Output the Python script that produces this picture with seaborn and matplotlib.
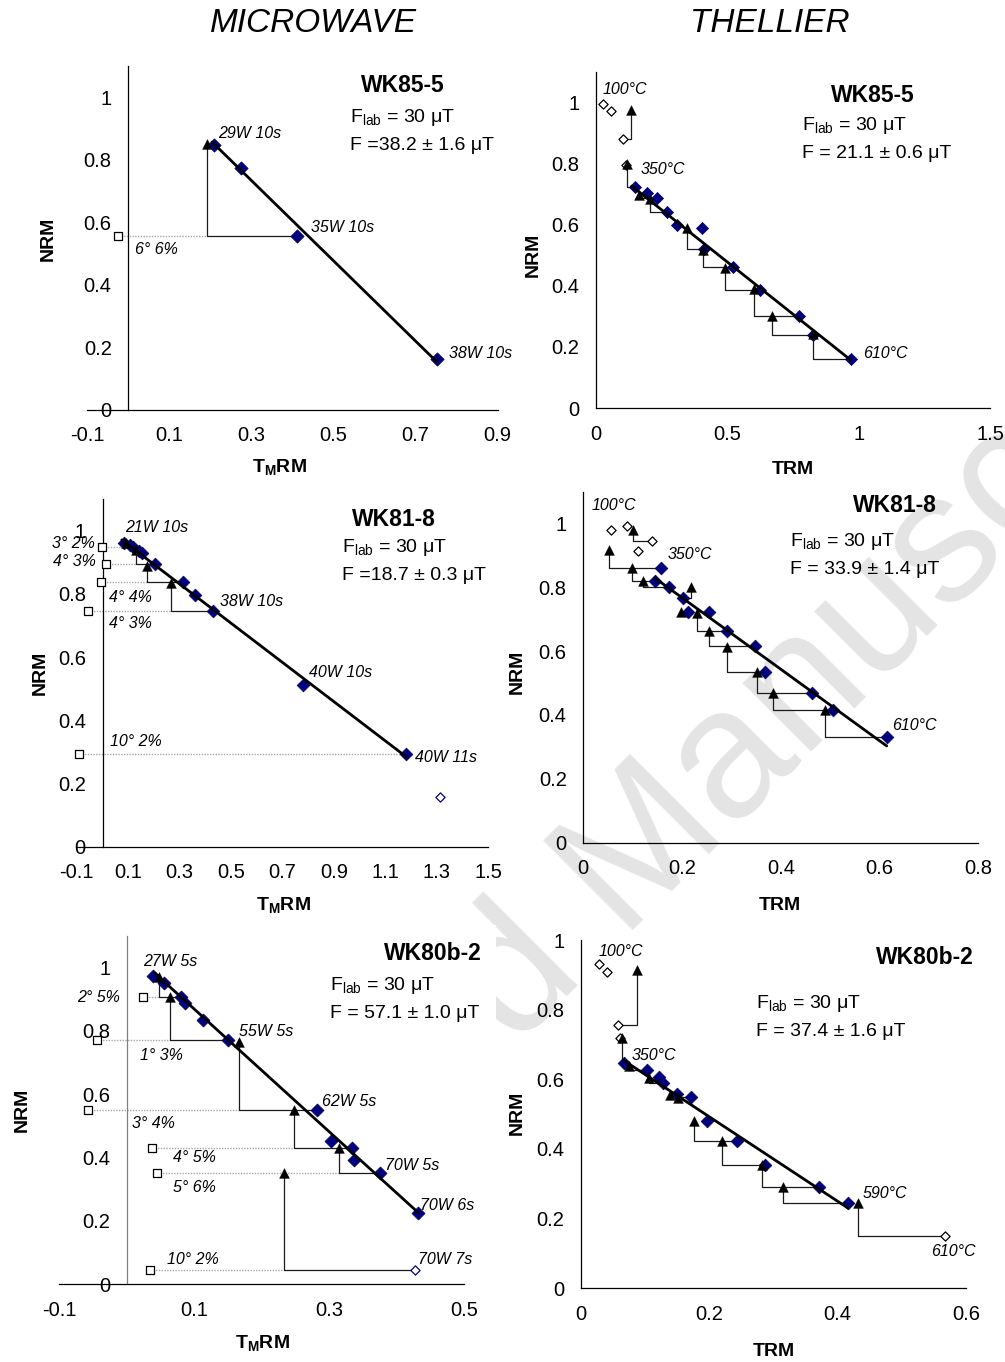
import matplotlib
matplotlib.use("Agg")
import matplotlib.pyplot as plt
from matplotlib.patches import Rectangle
import seaborn as sns

# ------------------------------------------------------------------
# Arai diagrams: NRM remaining vs. (T_M)RM gained, normalised values
# ------------------------------------------------------------------

# WK85-5, microwave
mw85_trm = [0.209, 0.274, 0.412, 0.751]
mw85_nrm = [0.847, 0.773, 0.556, 0.162]
mw85_chk_x = [0.192]
mw85_chk_y = [0.850]
mw85_from_x = [0.412]
mw85_from_y = [0.556]
mw85_dir_x = [-0.024]
mw85_dir_y = [0.556]
mw85_dir_to = [0.192]
mw85_fit_x = [0.204, 0.751]
mw85_fit_y = [0.857, 0.154]
mw85_step_labels = ["29W 10s", "35W 10s", "38W 10s"]
mw85_dir_labels = ["6° 6%"]

# WK85-5, Thellier
th85_off_x = [0.025, 0.056, 0.101, 0.115]
th85_off_y = [0.995, 0.973, 0.880, 0.797]
th85_trm = [0.150, 0.193, 0.231, 0.269, 0.307, 0.405, 0.412, 0.523, 0.624, 0.774, 0.827, 0.970]
th85_nrm = [0.723, 0.703, 0.687, 0.643, 0.599, 0.589, 0.520, 0.461, 0.386, 0.301, 0.239, 0.160]
th85_chk_x = [0.133, 0.117, 0.165, 0.204, 0.346, 0.409, 0.493, 0.601, 0.670, 0.827]
th85_chk_y = [0.976, 0.799, 0.698, 0.683, 0.589, 0.518, 0.460, 0.389, 0.302, 0.242]
th85_from_x = [0.101, 0.150, 0.231, 0.269, 0.412, 0.523, 0.624, 0.774, 0.827, 0.970]
th85_from_y = [0.880, 0.723, 0.687, 0.643, 0.520, 0.461, 0.386, 0.301, 0.239, 0.160]
th85_fit_x = [0.136, 0.970]
th85_fit_y = [0.727, 0.157]
th85_temp_labels = ["100°C", "350°C", "610°C"]

# WK81-8, microwave
mw81_trm = [0.085, 0.105, 0.120, 0.140, 0.152, 0.206, 0.314, 0.359, 0.431, 0.780, 1.180]
mw81_nrm = [0.960, 0.955, 0.947, 0.935, 0.928, 0.896, 0.837, 0.795, 0.747, 0.512, 0.293]
mw81_off_x = [1.314]
mw81_off_y = [0.158]
mw81_chk_x = [0.091, 0.130, 0.174, 0.265]
mw81_chk_y = [0.962, 0.939, 0.888, 0.836]
mw81_from_x = [0.120, 0.206, 0.314, 0.431]
mw81_from_y = [0.947, 0.896, 0.837, 0.747]
mw81_dir_x = [-0.001, 0.014, -0.006, -0.055, -0.090]
mw81_dir_y = [0.947, 0.896, 0.837, 0.747, 0.293]
mw81_dir_to = [0.091, 0.130, 0.174, 0.265, 1.180]
mw81_fit_x = [0.075, 1.180]
mw81_fit_y = [0.971, 0.285]
mw81_step_labels = ["21W 10s", "38W 10s", "40W 10s", "40W 11s"]
mw81_dir_labels = ["3° 2%", "4° 3%", "4° 4%", "4° 3%", "10° 2%"]

# WK81-8, Thellier
th81_off_x = [0.0555, 0.089, 0.110, 0.1385]
th81_off_y = [0.979, 0.993, 0.914, 0.945]
th81_trm = [0.1567, 0.1452, 0.1742, 0.2025, 0.2114, 0.2552, 0.2904, 0.3484, 0.3686, 0.4625, 0.5063, 0.6145]
th81_nrm = [0.861, 0.8205, 0.7998, 0.765, 0.7235, 0.7216, 0.664, 0.616, 0.5346, 0.470, 0.4156, 0.330]
th81_chk_x = [0.052, 0.100, 0.098, 0.1215, 0.2175, 0.197, 0.231, 0.2552, 0.2904, 0.351, 0.385, 0.4895]
th81_chk_y = [0.917, 0.979, 0.859, 0.8205, 0.800, 0.7235, 0.718, 0.664, 0.614, 0.5355, 0.470, 0.4156]
th81_from_x = [0.1567, 0.1385, 0.1452, 0.1742, 0.2025, 0.2114, 0.2904, 0.3484, 0.3686, 0.4625, 0.5063, 0.6145]
th81_from_y = [0.861, 0.945, 0.8205, 0.7998, 0.765, 0.7235, 0.664, 0.616, 0.5346, 0.470, 0.4156, 0.330]
th81_fit_x = [0.145, 0.6145]
th81_fit_y = [0.829, 0.303]
th81_temp_labels = ["100°C", "350°C", "610°C"]

# WK80b-2, microwave
mw80_trm = [0.0393, 0.0546, 0.0800, 0.0862, 0.1128, 0.1500, 0.2825, 0.3022, 0.3331, 0.3370, 0.3751, 0.4319]
mw80_nrm = [0.975, 0.953, 0.908, 0.887, 0.8346, 0.770, 0.549, 0.4525, 0.431, 0.392, 0.3525, 0.2254]
mw80_off_x = [0.427]
mw80_off_y = [0.0443]
mw80_chk_x = [0.0481, 0.064, 0.1667, 0.2477, 0.3149, 0.2329]
mw80_chk_y = [0.9716, 0.908, 0.766, 0.550, 0.431, 0.350]
mw80_from_x = [0.0800, 0.1500, 0.2825, 0.3331, 0.3751, 0.427]
mw80_from_y = [0.908, 0.770, 0.549, 0.431, 0.3525, 0.0443]
mw80_dir_x = [0.0235, -0.0437, -0.058, 0.0369, 0.0443, 0.0344]
mw80_dir_y = [0.908, 0.770, 0.549, 0.431, 0.3525, 0.0443]
mw80_dir_to = [0.0481, 0.064, 0.1667, 0.2477, 0.3149, 0.2329]
mw80_fit_x = [0.0418, 0.4319]
mw80_fit_y = [0.982, 0.2254]
mw80_step_labels = ["27W 5s", "55W 5s", "62W 5s", "70W 5s", "70W 6s", "70W 7s"]
mw80_dir_labels = ["2° 5%", "1° 3%", "3° 4%", "4° 5%", "5° 6%", "10° 2%"]

# WK80b-2, Thellier
th80_off_x = [0.028, 0.040, 0.0572, 0.060, 0.568]
th80_off_y = [0.930, 0.909, 0.756, 0.720, 0.150]
th80_trm = [0.067, 0.1024, 0.121, 0.1283, 0.149, 0.1709, 0.196, 0.2436, 0.2867, 0.3714, 0.4166]
th80_nrm = [0.646, 0.627, 0.608, 0.588, 0.558, 0.549, 0.481, 0.423, 0.354, 0.2917, 0.244]
th80_chk_x = [0.0868, 0.0634, 0.075, 0.1065, 0.1387, 0.1517, 0.1761, 0.2202, 0.2826, 0.3153, 0.4312]
th80_chk_y = [0.914, 0.718, 0.638, 0.603, 0.555, 0.5455, 0.481, 0.4238, 0.354, 0.2917, 0.2458]
th80_from_x = [0.0572, 0.067, 0.1024, 0.1283, 0.149, 0.1709, 0.2436, 0.2867, 0.3714, 0.4166, 0.568]
th80_from_y = [0.756, 0.646, 0.627, 0.588, 0.558, 0.549, 0.423, 0.354, 0.2917, 0.244, 0.150]
th80_fit_x = [0.066, 0.4166]
th80_fit_y = [0.655, 0.2297]
th80_temp_labels = ["100°C", "350°C", "590°C", "610°C"]

# Sample names and intensity results
samples = ["WK85-5", "WK81-8", "WK80b-2"]
flab_text = "F$_{\\mathregular{lab}}$ = 30 μT"
mw_results = ["F =38.2 ± 1.6 μT", "F =18.7 ± 0.3 μT", "F = 57.1 ± 1.0 μT"]
th_results = ["F = 21.1 ± 0.6 μT", "F = 33.9 ± 1.4 μT", "F = 37.4 ± 1.6 μT"]
column_titles = ["MICROWAVE", "THELLIER"]

# Axis ticks
y_ticks = [0, 0.2, 0.4, 0.6, 0.8, 1.0]
y_ticklabels = ["0", "0.2", "0.4", "0.6", "0.8", "1"]
mw85_xticks = [-0.1, 0.1, 0.3, 0.5, 0.7, 0.9]
mw81_xticks = [-0.1, 0.1, 0.3, 0.5, 0.7, 0.9, 1.1, 1.3, 1.5]
mw80_xticks = [-0.1, 0.1, 0.3, 0.5]
th85_xticks = [0, 0.5, 1.0, 1.5]
th85_xticklabels = ["0", "0.5", "1", "1.5"]
th81_xticks = [0, 0.2, 0.4, 0.6, 0.8]
th80_xticks = [0, 0.2, 0.4, 0.6]

# ------------------------------------------------------------------
# Styling
# ------------------------------------------------------------------
sns.set_style("white")
plt.rcParams["font.family"] = ["Liberation Sans", "DejaVu Sans"]
plt.rcParams["mathtext.fontset"] = "custom"
plt.rcParams["mathtext.rm"] = "Liberation Sans"
plt.rcParams["mathtext.it"] = "Liberation Sans:italic"
plt.rcParams["mathtext.bf"] = "Liberation Sans:bold"
plt.rcParams["axes.unicode_minus"] = False
plt.rcParams["text.color"] = "black"
plt.rcParams["axes.labelcolor"] = "black"
plt.rcParams["xtick.color"] = "black"
plt.rcParams["ytick.color"] = "black"

NAVY = "#000080"
NAVY_EDGE = "#00005a"
STEP = "#1a1a1a"
DOT = "#a6a6a6"
W, H = 1005, 1362

fig = plt.figure(figsize=(W / 100, H / 100), dpi=100)
fig.patch.set_facecolor("white")


def add_axes_px(left, top, right, bottom):
    return fig.add_axes([left / W, 1 - bottom / H, (right - left) / W, (bottom - top) / H])


def put(x, y, s, size=11.5, style="italic", weight="normal", ha="left", rot=0):
    fig.text(x / W, 1 - y / H, s, fontsize=size, fontstyle=style, color="black",
             fontweight=weight, ha=ha, va="center", rotation=rot)


def draw_arai(ax, px, py, cx, cy, fx, fy, fitx, fity,
              off_x=(), off_y=(), off_edge="black",
              dir_x=(), dir_y=(), dir_to=(), d_size=42):
    for sx, sy, ex in zip(dir_x, dir_y, dir_to):
        ax.plot([sx, ex], [sy, sy], color=DOT, lw=1.0, ls=(0, (1, 1)), zorder=1)
    for tx, ty, ox, oy in zip(cx, cy, fx, fy):
        ax.plot([ox, tx, tx], [oy, oy, ty], color=STEP, lw=0.9, zorder=2)
    if len(dir_x):
        sns.scatterplot(x=list(dir_x), y=list(dir_y), marker="s", s=32, color="white",
                        edgecolor="black", linewidth=0.9, ax=ax, zorder=3, clip_on=False)
    if len(off_x):
        sns.scatterplot(x=list(off_x), y=list(off_y), marker="D", s=22, color="white",
                        edgecolor=off_edge, linewidth=0.9, ax=ax, zorder=3, clip_on=False)
    sns.scatterplot(x=px, y=py, marker="D", s=d_size, color=NAVY, edgecolor=NAVY_EDGE,
                    linewidth=0.5, ax=ax, zorder=4, clip_on=False)
    sns.scatterplot(x=cx, y=cy, marker="^", s=50, color="black", edgecolor="black",
                    linewidth=0.3, ax=ax, zorder=5, clip_on=False)
    sns.lineplot(x=fitx, y=fity, color="black", linewidth=2.0, sort=False,
                 estimator=None, ax=ax, zorder=6)


def style_axes(ax, xlim, ylim, xticks, xlabels, yspine="black"):
    ax.set_xlim(*xlim)
    ax.set_ylim(*ylim)
    ax.set_facecolor("none")
    ax.grid(False)
    ax.spines["top"].set_visible(False)
    ax.spines["right"].set_visible(False)
    ax.spines["left"].set_position(("data", 0))
    ax.spines["left"].set_color(yspine)
    ax.spines["bottom"].set_color("black")
    for sp in ("left", "bottom"):
        ax.spines[sp].set_linewidth(0.9)
    ax.set_xticks(xticks)
    ax.set_xticklabels(xlabels)
    yt = [t for t in y_ticks if t <= ylim[1] + 1e-9]
    ax.set_yticks(yt)
    ax.set_yticklabels(y_ticklabels[:len(yt)])
    ax.tick_params(direction="out", length=4, width=0.9, labelsize=14.5, pad=8,
                   colors="black")
    ax.tick_params(axis="y", color=yspine)
    ax.set(xlabel="", ylabel="")


def fmt(ticks):
    return [("%g" % t) for t in ticks]


# Watermark behind the figure content; the lower-left chart sits on white
fig.text(652 / W, 1 - 912 / H, "Accepted Manuscript", fontsize=132, color="#e4e4e4",
         rotation=45, rotation_mode="anchor", ha="center", va="baseline", zorder=-3)
fig.add_artist(Rectangle((0, 0), 496 / W, 1 - 925 / H, transform=fig.transFigure,
                         facecolor="white", edgecolor="none", zorder=-2))

# ---- WK85-5 microwave ----
ax1 = add_axes_px(87.3, 66.1, 497.7, 409.7)
draw_arai(ax1, mw85_trm, mw85_nrm, mw85_chk_x, mw85_chk_y, mw85_from_x, mw85_from_y,
          mw85_fit_x, mw85_fit_y, dir_x=mw85_dir_x, dir_y=mw85_dir_y, dir_to=mw85_dir_to, d_size=46)
style_axes(ax1, (-0.1, 0.9), (0, 1.1), mw85_xticks, fmt(mw85_xticks))

# ---- WK85-5 Thellier ----
ax2 = add_axes_px(596, 72.2, 990, 408)
draw_arai(ax2, th85_trm, th85_nrm, th85_chk_x, th85_chk_y, th85_from_x, th85_from_y,
          th85_fit_x, th85_fit_y, off_x=th85_off_x, off_y=th85_off_y, d_size=38)
style_axes(ax2, (0, 1.5), (0, 1.1), th85_xticks, th85_xticklabels)

# ---- WK81-8 microwave ----
ax3 = add_axes_px(76.8, 499.1, 488.3, 846.7)
draw_arai(ax3, mw81_trm, mw81_nrm, mw81_chk_x, mw81_chk_y, mw81_from_x, mw81_from_y,
          mw81_fit_x, mw81_fit_y, off_x=mw81_off_x, off_y=mw81_off_y, off_edge=NAVY,
          dir_x=mw81_dir_x, dir_y=mw81_dir_y, dir_to=mw81_dir_to, d_size=42)
style_axes(ax3, (-0.1, 1.5), (0, 1.1), mw81_xticks, fmt(mw81_xticks))

# ---- WK81-8 Thellier ----
ax4 = add_axes_px(583.3, 491.5, 978.3, 842.7)
draw_arai(ax4, th81_trm, th81_nrm, th81_chk_x, th81_chk_y, th81_from_x, th81_from_y,
          th81_fit_x, th81_fit_y, off_x=th81_off_x, off_y=th81_off_y, d_size=42)
style_axes(ax4, (0, 0.8), (0, 1.1), th81_xticks, fmt(th81_xticks))

# ---- WK80b-2 microwave ----
ax5 = add_axes_px(59.3, 936.1, 464.3, 1284)
draw_arai(ax5, mw80_trm, mw80_nrm, mw80_chk_x, mw80_chk_y, mw80_from_x, mw80_from_y,
          mw80_fit_x, mw80_fit_y, off_x=mw80_off_x, off_y=mw80_off_y, off_edge=NAVY,
          dir_x=mw80_dir_x, dir_y=mw80_dir_y, dir_to=mw80_dir_to, d_size=44)
style_axes(ax5, (-0.1, 0.5), (0, 1.1), mw80_xticks, fmt(mw80_xticks), yspine="#808080")

# ---- WK80b-2 Thellier ----
ax6 = add_axes_px(581, 940, 966, 1288.3)
draw_arai(ax6, th80_trm, th80_nrm, th80_chk_x, th80_chk_y, th80_from_x, th80_from_y,
          th80_fit_x, th80_fit_y, off_x=th80_off_x, off_y=th80_off_y, d_size=42)
style_axes(ax6, (0, 0.6), (0, 1.0), th80_xticks, fmt(th80_xticks))

# ------------------------------------------------------------------
# Text
# ------------------------------------------------------------------
put(313, 23, column_titles[0], size=24, ha="center")
put(770, 23, column_titles[1], size=24, ha="center")

nrm_label = "NRM"
tmrm_label = r"$\mathbf{T_{M}RM}$"
trm_label = "TRM"
for (x, y) in [(48, 239), (40, 673), (22, 1110), (533, 255), (517, 672), (517, 1113)]:
    put(x, y, nrm_label, size=14, style="normal", weight="bold", ha="center", rot=90)
for (x, y) in [(279, 467), (283, 905), (262, 1343)]:
    put(x, y, tmrm_label, size=14, style="normal", weight="bold", ha="center")
for (x, y) in [(793, 470), (780, 905), (774, 1352)]:
    put(x, y, trm_label, size=14, style="normal", weight="bold", ha="center")

# sample names and results
for (x, y), name in zip([(403, 86), (394, 519), (433, 954)], samples):
    put(x, y, name, size=16.5, style="normal", weight="bold", ha="center")
for (x, y), name in zip([(873, 95), (895, 505), (925, 957)], samples):
    put(x, y, name, size=16.5, style="normal", weight="bold", ha="center")
for (x, y), res in zip([(350, 118), (342, 548), (330, 985)], mw_results):
    put(x, y, flab_text, size=14, style="normal")
    put(x, y + 28, res, size=14, style="normal")
for (x, y), res in zip([(802, 125), (790, 542), (756, 1004)], th_results):
    put(x, y, flab_text, size=14, style="normal")
    put(x, y + 28, res, size=14, style="normal")

# microwave step labels
for (x, y), s in zip([(218, 133), (311, 228), (449, 354)], mw85_step_labels):
    put(x, y, s)
for (x, y), s in zip([(125, 527), (220, 602), (309, 673), (415, 757)], mw81_step_labels):
    put(x, y, s)
for (x, y), s in zip([(143, 962), (239, 1031), (322, 1101), (385, 1165), (420, 1206), (418, 1260)],
                     mw80_step_labels):
    put(x, y, s)

# direction-check labels
put(135, 250, mw85_dir_labels[0])
for (x, y, ha), s in zip([(95, 544, "right"), (96, 562, "right"), (109, 597, "left"),
                          (109, 624, "left"), (110, 742, "left")], mw81_dir_labels):
    put(x, y, s, ha=ha)
for (x, y, ha), s in zip([(120, 998, "right"), (140, 1056, "left"), (132, 1123, "left"),
                          (173, 1158, "left"), (173, 1187, "left"), (167, 1260, "left")],
                         mw80_dir_labels):
    put(x, y, s, ha=ha)

# Thellier temperature labels
for (x, y), s in zip([(603, 90), (641, 170), (863, 353)], th85_temp_labels):
    put(x, y, s)
for (x, y), s in zip([(592, 506), (668, 555), (892, 725)], th81_temp_labels):
    put(x, y, s)
for (x, y), s in zip([(599, 951), (632, 1055), (863, 1193), (931, 1251)], th80_temp_labels):
    put(x, y, s)

fig.savefig("out.png", dpi=100)
